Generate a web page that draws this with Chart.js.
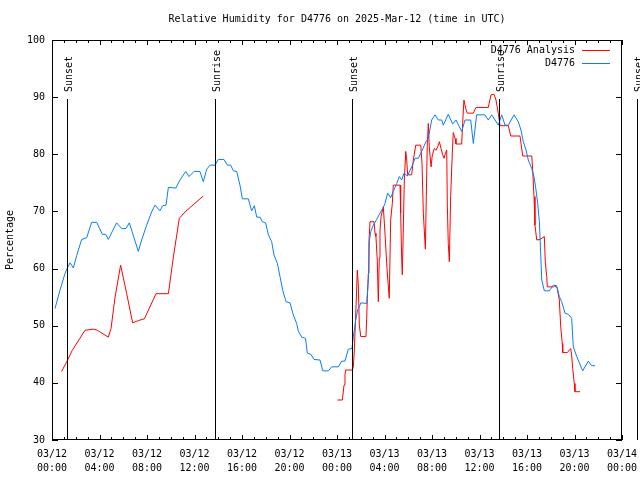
<!DOCTYPE html>
<html>
<head>
<meta charset="utf-8">
<script src="https://cdn.jsdelivr.net/npm/chart.js@4.4.1/dist/chart.umd.min.js"></script>
<style>
  body { margin: 0; background: #fff; }
  #rh-chart { display: block; }
</style>
</head>
<body>
<canvas id="rh-chart" width="640" height="480"></canvas>
<script>
// hours since 03/12 00:00 UTC
const analysisHours = [0.81, 1.29, 1.71, 2.78, 3.48, 3.82, 4.74, 4.97, 5.31, 5.78, 6.29, 6.79, 7.27, 7.78, 8.76, 9.80, 10.22, 10.72, 11.2, 12.74,
  18,
  24.03, 24.45, 24.59, 24.67, 24.73, 25.29, 25.37, 25.46, 25.57, 25.66, 25.71, 25.79, 25.88, 26.0, 26.44, 26.5, 26.55, 26.64, 26.69, 26.78,
  27.12, 27.2, 27.28, 27.39, 27.48, 27.56, 27.62, 27.71, 27.9, 28.04, 28.21, 28.4, 28.52, 28.66, 28.74, 29.31, 29.36, 29.45, 29.5, 29.67,
  29.79, 29.87, 29.95, 30.29, 30.43, 30.63, 31.05, 31.16, 31.27, 31.44, 31.52, 31.6, 31.69, 31.77, 31.92, 32.03, 32.19, 32.34, 32.48, 32.62,
  32.76, 32.9, 33.01, 33.09, 33.24, 33.29, 33.37, 33.46, 33.57, 33.71, 33.79, 33.94, 34.02, 34.5, 34.58, 34.69, 34.84, 34.97, 35.48, 35.71,
  36.74, 36.97, 37.22, 37.39, 37.58, 37.73, 38.43, 38.63, 39.41, 39.64, 40.4, 40.48, 40.59, 40.67, 40.82, 41.09, 41.46, 41.54, 41.66, 41.71,
  42.22, 42.36, 42.55, 42.72, 42.84, 42.97, 43.01, 43.39, 43.68, 43.76, 43.85, 43.98, 44.04, 44.46]
const analysisRH = [42.0, 43.9, 45.7, 49.2, 49.4, 49.2, 48.0, 49.5, 55.0, 60.6, 55.6, 50.5, 50.9, 51.2, 55.6, 55.6, 62.0, 68.8, 69.9, 72.7,
  null,
  37.0, 37.0, 39.6, 41.4, 42.25, 42.25, 42.7, 45.75, 51.6, 56.8, 59.75, 57.4, 50.1, 48.1, 48.1, 51.3, 54.8, 59.2, 64.7, 68.2,
  68.2, 66.2, 65.6, 61.5, 54.2, 61.8, 66.75, 69.1, 70.8, 66.2, 60.0, 54.8, 68.5, 71.4, 74.6, 74.6, 69.7, 61.5, 58.9, 75.5,
  80.5, 79.0, 76.4, 76.4, 79.0, 81.6, 81.6, 78.4, 69.7, 63.4, 72.6, 81.6, 85.4, 81.3, 77.8, 79.9, 81.0, 80.7, 81.3, 82.2,
  81.0, 79.9, 79.3, 79.9, 80.75, 71.1, 64.4, 61.2, 72.6, 80.2, 83.8, 82.8, 81.8, 81.8, 85.4, 89.5, 88.0, 87.2, 87.2, 88.2,
  88.2, 90.4, 90.5, 89.5, 87.2, 85.0, 85.0, 83.2, 83.2, 79.7, 79.7, 77.25, 72.6, 67.6, 65.0, 65.1, 65.6, 61.2, 58.6, 56.8,
  56.8, 57.0, 56.5, 54.5, 49.8, 46.9, 45.3, 45.3, 46.0, 44.9, 42.5, 39.9, 38.45, 38.45]

const stationHours = [0.25, 0.67, 1.09, 1.29, 1.52, 1.80, 2.08, 2.50, 2.92, 3.34, 3.76, 4.24, 4.52, 4.74, 5.44, 5.87, 6.23, 6.51, 7.27, 7.55,
  7.97, 8.39, 8.67, 9.09, 9.32, 9.60, 9.80, 10.44, 10.78, 11.26, 11.54, 11.96, 12.46, 12.74, 13.03, 13.31, 13.73, 14.0, 14.48, 14.77,
  15.05, 15.27, 15.55, 15.83, 16.03, 16.53, 16.81, 17.04, 17.24, 17.52, 17.71, 17.99, 18.22, 18.5, 18.69, 18.98, 19.2, 19.43, 19.71, 20.04,
  20.32, 20.6, 20.74, 21.03, 21.35, 21.5, 21.8, 22.06, 22.57, 22.8, 23.27, 23.55, 24.11, 24.39, 24.67, 24.95, 25.26, 25.38, 25.58, 25.74,
  25.88, 26.0, 26.5, 26.64, 26.72, 26.84, 27.06, 27.34, 27.62, 27.85, 28.04, 28.27, 28.52, 28.74, 29.03, 29.25, 29.45, 29.64, 29.92, 30.29,
  30.57, 30.85, 31.13, 31.49, 31.69, 31.97, 32.25, 32.53, 32.82, 32.95, 33.37, 33.74, 34.02, 34.5, 34.78, 35.26, 35.48, 35.76, 36.46, 36.74,
  37.03, 37.31, 37.58, 37.87, 38.15, 38.43, 38.91, 39.27, 39.49, 39.69, 39.92, 40.11, 40.4, 40.59, 40.76, 40.9, 41.04, 41.15, 41.24, 41.46,
  41.88, 42.22, 42.5, 42.72, 42.92, 43.2, 43.48, 43.76, 43.9, 44.19, 44.69, 45.16, 45.45, 45.73]
const stationRH = [53.0, 56.2, 59.1, 60.1, 61.0, 60.1, 62.3, 65.1, 65.4, 68.1, 68.1, 66.0, 66.0, 65.1, 68.0, 67.0, 67.0, 68.0, 63.0, 65.0,
  67.6, 69.9, 71.1, 70.1, 71.0, 71.1, 74.2, 74.1, 75.5, 77.0, 76.1, 77.0, 77.0, 75.2, 77.4, 78.1, 78.1, 79.1, 79.1, 78.1,
  78.1, 77.1, 77.0, 74.6, 72.2, 72.2, 70.1, 71.0, 69.0, 69.0, 68.2, 68.0, 65.9, 64.7, 62.4, 60.9, 58.6, 56.2, 54.2, 54.0,
  51.9, 50.4, 49.1, 48.0, 47.8, 45.2, 45.0, 44.1, 44.0, 42.1, 42.1, 42.8, 42.8, 43.8, 43.8, 45.9, 46.0, 48.1, 51.0, 52.75,
  53.3, 54.0, 53.9, 58.0, 64.7, 66.5, 67.6, 68.6, 69.7, 70.5, 71.4, 73.2, 72.4, 73.5, 74.9, 76.1, 75.5, 76.7, 76.2, 77.8,
  79.3, 79.3, 80.5, 82.2, 82.8, 86.0, 86.9, 86.0, 86.0, 85.1, 87.0, 85.3, 86.0, 84.0, 86.0, 86.0, 81.9, 86.9, 86.9, 86.0,
  86.9, 86.0, 85.1, 86.9, 85.1, 85.1, 86.9, 85.7, 84.25, 82.2, 80.75, 79.0, 77.5, 76.1, 73.75, 71.4, 68.2, 62.7, 58.0, 56.1,
  56.1, 57.1, 57.0, 55.1, 54.2, 52.2, 52.0, 51.3, 46.3, 44.6, 42.1, 43.8, 43.0, 43.0]

const sunTimes = [1.25, 13.7, 25.29, 37.67, 49.29]
const sunLabels = ['Sunset', 'Sunrise', 'Sunset', 'Sunrise', 'Sunset']
const sunLineTop = 89.6

const dayLabels = ['03/12', '03/13', '03/14']
const titleText = 'Relative Humidity for D4776 on 2025-Mar-12 (time in UTC)'

const red = '#ff0000'
const blue = '#0a7cf8'
const monoFont = '10px "DejaVu Sans Mono"'

Chart.defaults.font.family = '"DejaVu Sans Mono", monospace'
Chart.defaults.font.size = 10
Chart.defaults.color = '#000'

function toPoints(hours, values) {
    return hours.map((h, i) => ({x: h, y: values[i]}))
}

function timeLabel(h) {
    const hh = h % 24
    return [dayLabels[Math.floor(h / 24)], String(hh).padStart(2, '0') + ':00']
}

// gnuplot look: title over the plot, frame, inward ticks, sun markers, legend
const gnuplotDecor = {
    id: 'gnuplotDecor',
    afterDatasetsDraw(chart) {
        const ctx = chart.ctx
        const a = chart.chartArea
        const x = chart.scales.x
        const y = chart.scales.y
        ctx.save()
        ctx.strokeStyle = '#000'
        ctx.fillStyle = '#000'
        ctx.lineWidth = 1
        ctx.font = monoFont

        ctx.textAlign = 'center'
        ctx.textBaseline = 'middle'
        ctx.fillText(titleText, (a.left + a.right) / 2, 19)

        const topY = Math.round(y.getPixelForValue(sunLineTop))
        sunTimes.forEach((t, i) => {
            const px = Math.round(x.getPixelForValue(t)) + 0.5
            ctx.beginPath()
            ctx.moveTo(px, topY)
            ctx.lineTo(px, a.bottom)
            ctx.stroke()
            ctx.save()
            ctx.translate(px + 2, topY - 7)
            ctx.rotate(-Math.PI / 2)
            ctx.textAlign = 'left'
            ctx.textBaseline = 'middle'
            ctx.fillText(sunLabels[i], 0, 0)
            ctx.restore()
        })

        ctx.strokeRect(a.left + 0.5, a.top + 0.5, a.width - 1, a.height - 1)

        ctx.beginPath()
        for (let v = 30; v <= 100; v += 10) {
            const py = Math.round(y.getPixelForValue(v)) + 0.5
            ctx.moveTo(a.left, py); ctx.lineTo(a.left + 6, py)
            ctx.moveTo(a.right, py); ctx.lineTo(a.right - 6, py)
        }
        for (let h = 0; h <= 48; h++) {
            const px = Math.round(x.getPixelForValue(h)) + 0.5
            const len = h % 4 === 0 ? 5 : 3
            ctx.moveTo(px, a.bottom); ctx.lineTo(px, a.bottom - len)
            ctx.moveTo(px, a.top); ctx.lineTo(px, a.top + len)
        }
        ctx.stroke()

        chart.data.datasets.forEach((ds, i) => {
            const ly = a.top + 10.5 + i * 13
            ctx.textAlign = 'right'
            ctx.textBaseline = 'middle'
            ctx.fillStyle = '#000'
            ctx.fillText(ds.label, a.right - 47, ly)
            ctx.strokeStyle = ds.borderColor
            ctx.beginPath()
            ctx.moveTo(a.right - 40, ly)
            ctx.lineTo(a.right - 12, ly)
            ctx.stroke()
        })
        ctx.restore()
    }
}

const ctx = document.getElementById('rh-chart')
const rhChart = new Chart(ctx, {
    type: 'line',
    data: {
        datasets: [{
            label: 'D4776 Analysis',
            data: toPoints(analysisHours, analysisRH),
            borderColor: red,
            borderWidth: 1,
            pointRadius: 0,
            spanGaps: false,
            order: 1
        }, {
            label: 'D4776',
            data: toPoints(stationHours, stationRH),
            borderColor: blue,
            borderWidth: 1,
            pointRadius: 0,
            order: 0
        }]
    },
    options: {
        responsive: false,
        animation: false,
        devicePixelRatio: 1,
        layout: { padding: { left: 0, right: 18, top: 40, bottom: 0 } },
        plugins: {
            legend: { display: false },
            tooltip: { enabled: false },
            title: { display: false }
        },
        scales: {
            x: {
                type: 'linear',
                min: 0,
                max: 48,
                grid: { display: false, drawTicks: false },
                border: { display: false },
                ticks: {
                    stepSize: 4,
                    autoSkip: false,
                    maxRotation: 0,
                    padding: 7,
                    font: { size: 10, lineHeight: 1.4 },
                    callback: (v) => timeLabel(v)
                },
                afterFit: (scale) => {
                    scale.height = 40
                    scale.paddingLeft = 0
                    scale.paddingRight = 0
                }
            },
            y: {
                min: 30,
                max: 100,
                grid: { display: false, drawTicks: false },
                border: { display: false },
                ticks: { stepSize: 10, padding: 7 },
                title: {
                    display: true,
                    text: 'Percentage',
                    font: { size: 10 },
                    padding: { top: 4, bottom: 0 }
                },
                afterFit: (scale) => {
                    scale.width = 52
                    scale.paddingTop = 0
                    scale.paddingBottom = 0
                }
            }
        }
    },
    plugins: [gnuplotDecor]
})
</script>
</body>
</html>
